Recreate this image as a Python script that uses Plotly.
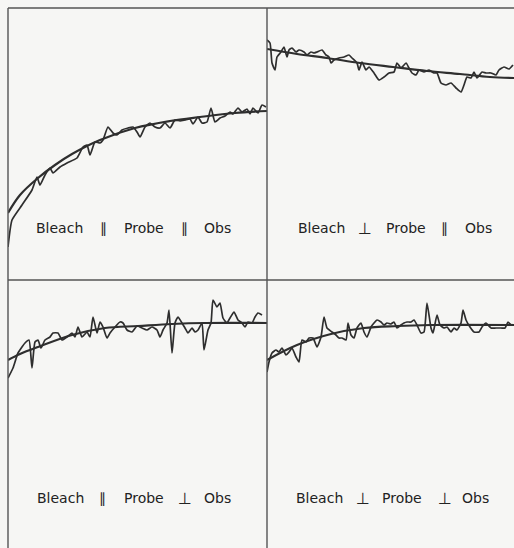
import plotly.graph_objects as go

# ---------------- data (time in arbitrary units, signal in arbitrary units) ----------------
# Panel A: Bleach || Probe || Obs
a_t = [0, 4, 14, 24, 29, 32, 37, 42, 45, 52, 59, 69, 75, 79, 82, 87, 92, 95, 100, 105,
       109, 114, 120, 125, 129, 132, 137, 142, 147, 152, 157, 162, 167, 172, 177, 182, 185,
       190, 194, 199, 203, 207, 212, 217, 222, 225, 230, 234, 239, 242, 245, 250, 254, 258]
a_s = [33, 60, 75, 90, 103, 95, 105, 112, 107, 113, 117, 122, 133, 135, 125, 138, 137, 140, 153, 147,
       145, 150, 152, 153, 148, 143, 153, 157, 153, 152, 157, 152, 160, 159, 160, 161, 156,
       163, 157, 158, 172, 158, 162, 164, 168, 166, 172, 168, 171, 166, 172, 167, 175, 173]
a_fit_t = [0, 12, 30, 47, 64, 92, 127, 162, 192, 227, 259]
a_fit_s = [67, 85, 102, 115, 126, 140, 152, 159, 163, 167, 169]

# Panel B: Bleach ⊥ Probe || Obs
b_t = [0, 3, 5, 8, 10, 14, 17, 20, 22, 25, 29, 32, 37, 40, 44, 47, 50, 55, 59, 62, 64, 67,
       72, 77, 82, 85, 90, 92, 95, 99, 102, 107, 112, 117, 122, 127, 130, 134, 139, 142, 145,
       149, 152, 157, 162, 167, 170, 174, 179, 184, 189, 194, 197, 200, 204, 207, 210, 215,
       219, 224, 229, 232, 237, 242, 246]
b_s = [240, 237, 217, 210, 223, 228, 233, 223, 230, 232, 228, 230, 228, 225, 228, 227, 228, 230,
       225, 223, 217, 220, 222, 223, 225, 222, 217, 210, 218, 210, 213, 207, 200, 203, 207, 208,
       217, 212, 217, 212, 207, 205, 210, 208, 210, 207, 207, 197, 195, 197, 192, 188, 195, 203,
       202, 208, 202, 208, 207, 207, 205, 210, 213, 211, 215]
b_fit_t = [0, 30, 60, 93, 126, 160, 193, 223, 247]
b_fit_s = [231, 226, 222, 217, 213, 209, 206, 203, 202]

# Panel C: Bleach || Probe ⊥ Obs
c_t = [0, 5, 10, 17, 21, 24, 27, 30, 33, 37, 42, 45, 50, 54, 59, 64, 67, 70, 74, 79, 82, 85,
       89, 92, 95, 99, 102, 107, 112, 115, 119, 124, 129, 134, 139, 144, 149, 152, 155, 159,
       161, 164, 167, 170, 174, 177, 180, 184, 187, 190, 194, 196, 200, 203, 205, 209, 212,
       215, 219, 222, 226, 230, 234, 237, 240, 244, 247, 250, 254]
c_s = [170, 180, 195, 205, 208, 180, 206, 208, 200, 208, 211, 215, 215, 208, 211, 215, 211, 221,
       211, 216, 211, 231, 215, 226, 221, 210, 215, 221, 226, 225, 218, 216, 222, 220, 218, 221,
       218, 211, 218, 225, 238, 195, 225, 231, 225, 220, 215, 220, 216, 218, 225, 198, 218, 225,
       248, 241, 245, 230, 225, 230, 236, 228, 225, 221, 226, 225, 231, 235, 233]
c_fit_t = [0, 12, 30, 64, 97, 130, 164, 197, 259]
c_fit_s = [188, 194, 201, 213, 220, 222, 224, 225, 225]

# Panel D: Bleach ⊥ Probe ⊥ Obs
d_t = [0, 2, 5, 9, 12, 15, 19, 22, 25, 29, 32, 35, 39, 42, 46, 50, 54, 57, 60, 65, 69, 72, 75,
       79, 81, 84, 87, 90, 94, 97, 100, 104, 107, 110, 114, 117, 120, 124, 127, 130, 134, 137,
       140, 144, 147, 150, 154, 157, 160, 164, 166, 170, 173, 177, 180, 184, 187, 190, 194,
       196, 199, 203, 207, 212, 215, 219, 224, 229, 234, 238, 241, 244, 247]
d_s = [176, 186, 195, 198, 196, 200, 193, 196, 200, 191, 186, 208, 206, 210, 210, 201, 211, 231,
       220, 216, 213, 210, 210, 208, 225, 213, 210, 220, 225, 216, 211, 221, 225, 228, 226, 223,
       225, 224, 226, 220, 223, 225, 226, 226, 228, 223, 215, 216, 245, 220, 215, 233, 223, 220,
       221, 216, 220, 218, 225, 238, 228, 221, 216, 216, 221, 225, 220, 220, 220, 220, 226, 223,
       223]
d_fit_t = [0, 30, 64, 97, 130, 164, 247]
d_fit_s = [188, 203, 214, 220, 222, 223, 223]

labels = [
    ["Bleach", "∥", "Probe", "∥", "Obs"],
    ["Bleach", "⊥", "Probe", "∥", "Obs"],
    ["Bleach", "∥", "Probe", "⊥", "Obs"],
    ["Bleach", "⊥", "Probe", "⊥", "Obs"],
]

# ---------------- layout geometry ----------------
W, H = 514, 548
L, TOP, MX, MY = 8, 8, 267, 280

def px(x):
    return x / W

def py(y):
    return 1 - y / H

panels = [
    (a_t, a_s, a_fit_t, a_fit_s, [px(L), px(MX)], [py(MY), py(TOP)], MX - L, MY - TOP),
    (b_t, b_s, b_fit_t, b_fit_s, [px(MX), 1.0], [py(MY), py(TOP)], W - MX, MY - TOP),
    (c_t, c_s, c_fit_t, c_fit_s, [px(L), px(MX)], [0.0, py(MY)], MX - L, H - MY),
    (d_t, d_s, d_fit_t, d_fit_s, [px(MX), 1.0], [0.0, py(MY)], W - MX, H - MY),
]

label_pos = [
    ([59.5, 103, 144, 184.5, 217], 228),
    ([321.5, 365, 405.5, 444.5, 478.5], 228),
    ([60, 102.5, 143.5, 185, 217.5], 498),
    ([319, 362.5, 402, 445, 475], 498),
]

ink = "#2e2e2e"
fig = go.Figure()
layout = {}
for i, (t, s, ft, fs, xd, yd, xr, yr) in enumerate(panels):
    n = "" if i == 0 else str(i + 1)
    fig.add_trace(go.Scatter(x=t, y=s, mode="lines", xaxis="x" + n, yaxis="y" + n,
                             line=dict(color=ink, width=1.7, shape="spline", smoothing=0.5),
                             hoverinfo="skip"))
    fig.add_trace(go.Scatter(x=ft, y=fs, mode="lines", xaxis="x" + n, yaxis="y" + n,
                             line=dict(color=ink, width=2.2, shape="spline", smoothing=1.0),
                             hoverinfo="skip"))
    layout["xaxis" + n] = dict(domain=xd, range=[0, xr], visible=False, fixedrange=True,
                               anchor="y" + n)
    layout["yaxis" + n] = dict(domain=yd, range=[0, yr], visible=False, fixedrange=True,
                               anchor="x" + n)

annotations = []
for words, (xs, yy) in zip(labels, label_pos):
    for w, xx in zip(words, xs):
        sym = w == "⊥"
        annotations.append(dict(text=w, x=px(xx), y=py(yy + (0.5 if sym else 0)),
                                xref="paper", yref="paper",
                                xanchor="center", yanchor="middle", showarrow=False,
                                font=dict(family="DejaVu Sans", size=16 if sym else 14,
                                          color="#222222")))

frame = "#555555"
shapes = [
    dict(type="line", xref="paper", yref="paper", x0=px(L), x1=1, y0=py(TOP), y1=py(TOP),
         line=dict(color=frame, width=1.4)),
    dict(type="line", xref="paper", yref="paper", x0=px(L), x1=px(L), y0=0, y1=py(TOP),
         line=dict(color=frame, width=1.4)),
    dict(type="line", xref="paper", yref="paper", x0=px(MX), x1=px(MX), y0=0, y1=py(TOP),
         line=dict(color=frame, width=1.4)),
    dict(type="line", xref="paper", yref="paper", x0=px(L), x1=1, y0=py(MY), y1=py(MY),
         line=dict(color=frame, width=1.4)),
]

fig.update_layout(
    width=W, height=H, margin=dict(l=0, r=0, t=0, b=0),
    paper_bgcolor="#f6f6f4", plot_bgcolor="rgba(0,0,0,0)",
    showlegend=False, annotations=annotations, shapes=shapes, **layout,
)
fig.write_html("out.html", config={"displayModeBar": False})
